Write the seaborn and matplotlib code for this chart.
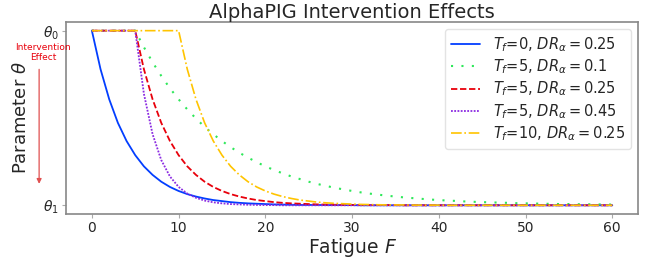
import matplotlib
matplotlib.use("Agg")
import matplotlib.pyplot as plt
from matplotlib.patches import FancyArrowPatch
import seaborn as sns

sns.set_style("ticks")

# fatigue values on the x axis
fatigue = list(range(0, 61))

# parameter values (theta_0 = 1, theta_1 = 0)
theta_tf0_dr025 = [1.000, 0.779, 0.607, 0.472, 0.368, 0.287, 0.223, 0.174, 0.135, 0.105,
                   0.082, 0.064, 0.050, 0.039, 0.030, 0.024, 0.018, 0.014, 0.011, 0.009,
                   0.007, 0.005, 0.004, 0.003, 0.002, 0.002, 0.002, 0.001, 0.001, 0.001,
                   0.001, 0.000, 0.000, 0.000, 0.000, 0.000, 0.000, 0.000, 0.000, 0.000,
                   0.000, 0.000, 0.000, 0.000, 0.000, 0.000, 0.000, 0.000, 0.000, 0.000,
                   0.000, 0.000, 0.000, 0.000, 0.000, 0.000, 0.000, 0.000, 0.000, 0.000,
                   0.000]
theta_tf5_dr010 = [1.000, 1.000, 1.000, 1.000, 1.000, 1.000, 0.905, 0.819, 0.741, 0.670,
                   0.607, 0.549, 0.497, 0.449, 0.407, 0.368, 0.333, 0.301, 0.273, 0.247,
                   0.223, 0.202, 0.183, 0.165, 0.150, 0.135, 0.122, 0.111, 0.100, 0.091,
                   0.082, 0.074, 0.067, 0.061, 0.055, 0.050, 0.045, 0.041, 0.037, 0.033,
                   0.030, 0.027, 0.025, 0.022, 0.020, 0.018, 0.017, 0.015, 0.014, 0.012,
                   0.011, 0.010, 0.009, 0.008, 0.007, 0.007, 0.006, 0.006, 0.005, 0.005,
                   0.004]
theta_tf5_dr025 = [1.000, 1.000, 1.000, 1.000, 1.000, 1.000, 0.779, 0.607, 0.472, 0.368,
                   0.287, 0.223, 0.174, 0.135, 0.105, 0.082, 0.064, 0.050, 0.039, 0.030,
                   0.024, 0.018, 0.014, 0.011, 0.009, 0.007, 0.005, 0.004, 0.003, 0.002,
                   0.002, 0.002, 0.001, 0.001, 0.001, 0.001, 0.000, 0.000, 0.000, 0.000,
                   0.000, 0.000, 0.000, 0.000, 0.000, 0.000, 0.000, 0.000, 0.000, 0.000,
                   0.000, 0.000, 0.000, 0.000, 0.000, 0.000, 0.000, 0.000, 0.000, 0.000,
                   0.000]
theta_tf5_dr045 = [1.000, 1.000, 1.000, 1.000, 1.000, 1.000, 0.638, 0.407, 0.259, 0.165,
                   0.105, 0.067, 0.043, 0.027, 0.017, 0.011, 0.007, 0.005, 0.003, 0.002,
                   0.001, 0.001, 0.000, 0.000, 0.000, 0.000, 0.000, 0.000, 0.000, 0.000,
                   0.000, 0.000, 0.000, 0.000, 0.000, 0.000, 0.000, 0.000, 0.000, 0.000,
                   0.000, 0.000, 0.000, 0.000, 0.000, 0.000, 0.000, 0.000, 0.000, 0.000,
                   0.000, 0.000, 0.000, 0.000, 0.000, 0.000, 0.000, 0.000, 0.000, 0.000,
                   0.000]
theta_tf10_dr025 = [1.000, 1.000, 1.000, 1.000, 1.000, 1.000, 1.000, 1.000, 1.000, 1.000,
                    1.000, 0.779, 0.607, 0.472, 0.368, 0.287, 0.223, 0.174, 0.135, 0.105,
                    0.082, 0.064, 0.050, 0.039, 0.030, 0.024, 0.018, 0.014, 0.011, 0.009,
                    0.007, 0.005, 0.004, 0.003, 0.002, 0.002, 0.002, 0.001, 0.001, 0.001,
                    0.001, 0.000, 0.000, 0.000, 0.000, 0.000, 0.000, 0.000, 0.000, 0.000,
                    0.000, 0.000, 0.000, 0.000, 0.000, 0.000, 0.000, 0.000, 0.000, 0.000,
                    0.000]

labels = [r"$T_f$=0, $DR_\alpha = 0.25$",
          r"$T_f$=5, $DR_\alpha = 0.1$",
          r"$T_f$=5, $DR_\alpha = 0.25$",
          r"$T_f$=5, $DR_\alpha = 0.45$",
          r"$T_f$=10, $DR_\alpha = 0.25$"]
series = [theta_tf0_dr025, theta_tf5_dr010, theta_tf5_dr025, theta_tf5_dr045, theta_tf10_dr025]
colors = ["#023eff", "#2ee85a", "#e8000b", "#8b2be2", "#ffc400"]
styles = ["-", (0, (1, 4)), (0, (3.5, 1.5)), (0, (1, 0.8)), "-."]
widths = [1.3, 1.5, 1.3, 1.3, 1.2]

fig, ax = plt.subplots(figsize=(6.52, 2.61), dpi=100)
fig.subplots_adjust(left=0.101, right=0.979, top=0.916, bottom=0.18)

for vals, lab, col, ls, lw in zip(series, labels, colors, styles, widths):
    sns.lineplot(x=fatigue, y=vals, ax=ax, color=col, linestyle=ls, linewidth=lw, label=lab)

ax.set_xlim(-3, 63)
ax.set_ylim(-0.05, 1.05)
ax.set_xticks([0, 10, 20, 30, 40, 50, 60])
ax.set_yticks([0, 1])
ax.set_yticklabels([r"$\theta_1$", r"$\theta_0$"])
ax.tick_params(labelsize=10, color="#aaaaaa", length=3, pad=2)
for sp in ax.spines.values():
    sp.set_color("#888888")
    sp.set_linewidth(1.2)

ax.set_xlabel("Fatigue $F$", fontsize=13.5, labelpad=1)
ax.set_ylabel(r"Parameter $\theta$", fontsize=13, labelpad=9)
ax.set_title("AlphaPIG Intervention Effects", fontsize=14, pad=3)

ax.legend(loc="upper right", fontsize=10.5, frameon=True, edgecolor="#dddddd",
          handlelength=2.0, handletextpad=0.9, borderaxespad=0.5, labelspacing=0.25)

# red arrow on the left showing the direction of the effect
fig.text(0.066, 0.80, "Intervention\nEffect", color="#e8000b", fontsize=6.5,
         ha="center", va="center", linespacing=1.1)
fig.patches.append(FancyArrowPatch(
    (0.060, 0.745), (0.060, 0.285), transform=fig.transFigure,
    arrowstyle="-|>", mutation_scale=7, color="#e05050", linewidth=0.9))

fig.savefig("out.png", dpi=100)
